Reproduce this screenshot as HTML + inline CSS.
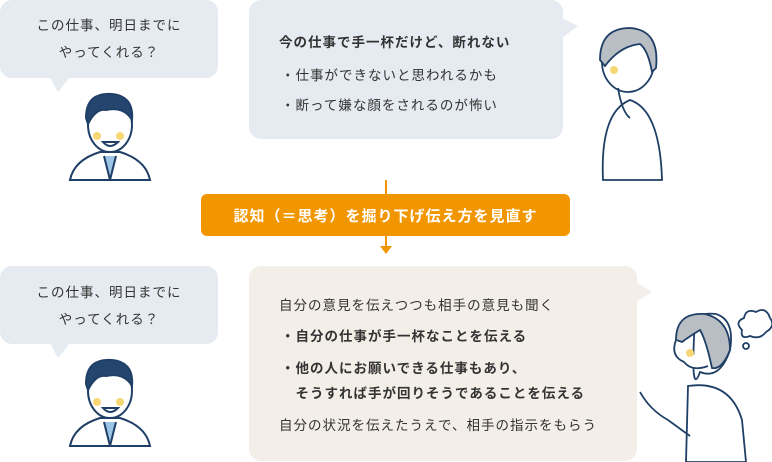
<!DOCTYPE html>
<html><head><meta charset="utf-8"><style>
*{margin:0;padding:0;box-sizing:border-box}
body{width:772px;height:462px;background:#fff;position:relative;overflow:hidden;font-family:"Liberation Sans","Noto Sans CJK JP",sans-serif;color:#333}
.t{position:absolute;font-size:13.5px;white-space:nowrap;letter-spacing:1px}
.bd{font-weight:bold}
</style></head><body>
<svg width="772" height="462" style="position:absolute;left:0;top:0">
<rect x="0" y="0" width="218" height="78" rx="12" fill="#e5ebf1"/>
<polygon points="50,77 70,77 58,92" fill="#e5ebf1"/>
<rect x="249" y="0" width="314" height="139" rx="12" fill="#e5ebf1"/>
<polygon points="562,18 562,38 578,26" fill="#e5ebf1"/>
<rect x="0" y="266" width="218" height="78" rx="12" fill="#e5ebf1"/>
<polygon points="50,343 70,343 58,358" fill="#e5ebf1"/>
<rect x="249" y="266" width="388" height="195" rx="12" fill="#f3eee8"/>
<polygon points="636,282 636,302 652,292" fill="#f3eee8"/>
<line x1="386" y1="180" x2="386" y2="196" stroke="#f29600" stroke-width="2"/>
<rect x="201" y="194" width="369" height="42" rx="6" fill="#f29600"/>
<line x1="386" y1="236" x2="386" y2="250" stroke="#f29600" stroke-width="2"/>
<polygon points="380,246 392,246 386,254" fill="#f29600"/>
<g id="man" stroke="#1f3f66" stroke-width="2" fill="#fff">
<path d="M70,180 Q74,160 100,152 L120,152 Q146,160 150,180 Z"/>
<path d="M104,156 L110,180 L116,156" fill="#9cc4e4"/>
<ellipse cx="110" cy="125" rx="22" ry="27"/>
<path d="M86,118 Q86,92 112,94 Q134,96 132,120 Q124,106 106,110 Q96,108 88,124 Z" fill="#24466e"/>
<circle cx="97" cy="136" r="4" fill="#f7d774" stroke="none"/>
<circle cx="120" cy="136" r="4" fill="#f7d774" stroke="none"/>
<path d="M103,142 Q110,150 118,142 Z" fill="#fff"/>
</g>
<use href="#man" y="266"/>
<g stroke="#1f3f66" stroke-width="1.8" fill="#fff">
<path d="M603,180 Q600,112 630,100 Q660,110 662,180 Z"/>
<ellipse cx="628" cy="62" rx="26" ry="30"/>
<path d="M600,60 Q600,28 630,28 Q660,30 656,68 L652,72 Q648,50 640,44 Q620,46 605,66 Z" fill="#b8bec4"/>
<circle cx="614" cy="70" r="4" fill="#f7d774" stroke="none"/>
<path d="M618,88 Q622,112 630,118" fill="none"/>
</g>
<g stroke="#1f3f66" stroke-width="1.8" fill="#fff">
<path d="M688,386 Q730,380 742,420 L746,462 L686,462 Z"/>
<path d="M640,392 Q650,410 668,420 L690,436" fill="none"/>
<path d="M695,320 Q690,400 700,372 Q720,380 730,350 Q735,320 716,314 Q700,312 695,320 Z"/>
<path d="M676,340 Q676,312 705,314 Q730,320 730,350 Q722,370 712,368 Q706,340 700,330 Q690,336 682,342 Z" fill="#b8bec4"/>
<path d="M676,340 Q670,356 684,362 Q692,372 708,366" fill="#fff"/>
<circle cx="690" cy="353" r="4" fill="#f7d774" stroke="none"/>
<path d="M742,330 Q734,322 744,318 Q746,308 756,312 Q766,306 770,318 Q776,326 766,332 Q760,340 750,336 Q740,340 742,330 Z"/>
<circle cx="746" cy="346" r="3"/>
</g>
</svg>
<div class="t" style="left:0;width:218px;text-align:center;top:12px;line-height:27px">この仕事、明日までに<br>やってくれる？</div>
<div class="t bd" style="left:279px;top:31px">今の仕事で手一杯だけど、断れない</div>
<div class="t" style="left:281px;top:64px">・仕事ができないと思われるかも</div>
<div class="t" style="left:281px;top:94px">・断って嫌な顔をされるのが怖い</div>
<div class="t bd" style="left:201px;width:369px;text-align:center;top:205px;color:#fff;font-size:15px">認知（＝思考）を掘り下げ伝え方を見直す</div>
<div class="t" style="left:0;width:218px;text-align:center;top:279px;line-height:27px">この仕事、明日までに<br>やってくれる？</div>
<div class="t" style="left:279px;top:294px">自分の意見を伝えつつも相手の意見も聞く</div>
<div class="t bd" style="left:281px;top:325px">・自分の仕事が手一杯なことを伝える</div>
<div class="t bd" style="left:281px;top:356px;line-height:25px">・他の人にお願いできる仕事もあり、<br>　そうすれば手が回りそうであることを伝える</div>
<div class="t" style="left:279px;top:414px">自分の状況を伝えたうえで、相手の指示をもらう</div>
</body></html>
